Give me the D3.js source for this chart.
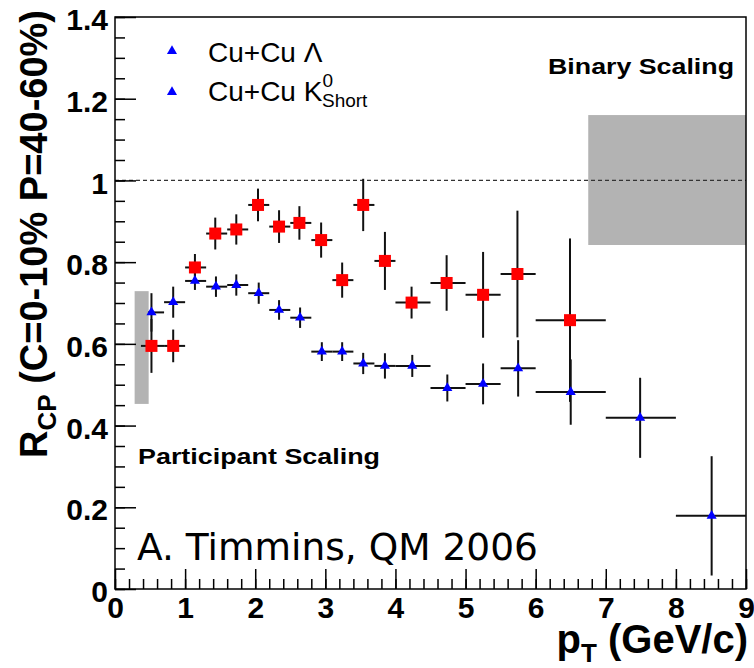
<!DOCTYPE html>
<html>
<head>
<meta charset="utf-8">
<script src="https://cdn.jsdelivr.net/npm/d3@7"></script>
<style>
  body { margin: 0; background: #fff; }
  text { font-family: "Liberation Sans", Arial, sans-serif; }
  .tick text { font-weight: bold; font-size: 30px; fill: #000; }
  .tick line { stroke: #000; stroke-width: 1.5; }
</style>
</head>
<body>
<div id="chart"></div>
<script>

// Lambda (red squares)
var lamPt  = [0.52, 0.83, 1.14, 1.43, 1.73, 2.04, 2.34, 2.63, 2.94, 3.24, 3.54, 3.85, 4.23, 4.73, 5.25, 5.74, 6.49];
var lamLo  = [0.37, 0.7, 1.0, 1.3, 1.6, 1.9, 2.2, 2.5, 2.8, 3.1, 3.4, 3.7, 4.0, 4.5, 5.0, 5.5, 6.0];
var lamHi  = [0.7, 1.0, 1.3, 1.6, 1.9, 2.2, 2.5, 2.8, 3.1, 3.4, 3.7, 4.0, 4.5, 5.0, 5.5, 6.0, 7.0];
var lamRcp = [0.595, 0.595, 0.787, 0.870, 0.880, 0.940, 0.887, 0.896, 0.854, 0.756, 0.940, 0.803, 0.701, 0.749, 0.720, 0.771, 0.658];
var lamErr = [0.066, 0.04, 0.033, 0.039, 0.037, 0.04, 0.04, 0.041, 0.043, 0.043, 0.064, 0.071, 0.039, 0.068, 0.105, 0.155, 0.2];

// K0 short (blue triangles)
var kPt  = [0.52, 0.83, 1.14, 1.44, 1.73, 2.05, 2.34, 2.64, 2.95, 3.24, 3.54, 3.85, 4.24, 4.74, 5.25, 5.75, 6.50, 7.49, 8.51];
var kLo  = [0.47, 0.7, 1.0, 1.3, 1.6, 1.9, 2.2, 2.5, 2.8, 3.1, 3.4, 3.7, 4.0, 4.5, 5.0, 5.5, 6.0, 7.0, 8.0];
var kHi  = [0.7, 1.0, 1.3, 1.6, 1.9, 2.2, 2.5, 2.8, 3.1, 3.4, 3.7, 4.0, 4.5, 5.0, 5.5, 6.0, 7.0, 8.0, 9.0];
var kRcp = [0.677, 0.702, 0.754, 0.740, 0.744, 0.724, 0.683, 0.664, 0.581, 0.581, 0.552, 0.546, 0.546, 0.492, 0.502, 0.540, 0.482, 0.419, 0.179];
var kErr = [0.047, 0.038, 0.022, 0.025, 0.026, 0.026, 0.024, 0.025, 0.023, 0.023, 0.026, 0.031, 0.027, 0.033, 0.05, 0.069, 0.08, 0.098, 0.146];

// scaling bands [x0, x1, y0, y1]
var partBand = [0.28, 0.48, 0.453, 0.729];
var binBand  = [6.75, 9.0, 0.842, 1.16];

var xTicks = d3.range(0, 10, 1);
var yTicks = [0, 0.2, 0.4, 0.6, 0.8, 1, 1.2, 1.4];

var width = 754, height = 668;
var plotL = 115, plotR = 746, plotT = 17, plotB = 589;

var svg = d3.select("#chart").append("svg")
  .attr("width", width)
  .attr("height", height);

var x = d3.scaleLinear().domain([0, 9]).range([plotL, plotR]);
var y = d3.scaleLinear().domain([0, 1.4]).range([plotB, plotT]);

function rows(pt, lo, hi, v, e) {
  return pt.map(function(d, i) {
    return {pt: d, lo: lo[i], hi: hi[i], v: v[i], e: e[i]};
  });
}
var lam = rows(lamPt, lamLo, lamHi, lamRcp, lamErr);
var k0 = rows(kPt, kLo, kHi, kRcp, kErr);

// grey bands
[partBand, binBand].forEach(function(b) {
  svg.append("rect")
    .attr("x", x(b[0]))
    .attr("y", y(b[3]))
    .attr("width", x(b[1]) - x(b[0]))
    .attr("height", y(b[2]) - y(b[3]))
    .attr("fill", "#b3b3b3");
});

// dashed line at 1
svg.append("line")
  .attr("x1", x(0)).attr("x2", x(9))
  .attr("y1", y(1)).attr("y2", y(1))
  .attr("stroke", "#333")
  .attr("stroke-width", 1.2)
  .attr("stroke-dasharray", "4,3");

// axes
var xMinor = svg.append("g")
  .attr("transform", "translate(0," + plotB + ")")
  .call(d3.axisBottom(x).tickValues(d3.range(0, 9.01, 0.2)).tickSizeInner(-10).tickSizeOuter(0).tickFormat(""));
xMinor.select(".domain").remove();

var xAxis = svg.append("g")
  .attr("transform", "translate(0," + plotB + ")")
  .call(d3.axisBottom(x).tickValues(xTicks).tickSizeInner(-20).tickSizeOuter(0).tickPadding(8).tickFormat(d3.format("d")));
xAxis.select(".domain").remove();

var yMinor = svg.append("g")
  .attr("transform", "translate(" + plotL + ",0)")
  .call(d3.axisLeft(y).tickValues(d3.range(0, 1.401, 0.05)).tickSizeInner(-10).tickSizeOuter(0).tickFormat(""));
yMinor.select(".domain").remove();

var yAxis = svg.append("g")
  .attr("transform", "translate(" + plotL + ",0)")
  .call(d3.axisLeft(y).tickValues(yTicks).tickSizeInner(-21).tickSizeOuter(0).tickPadding(7).tickFormat(d3.format("~g")));
yAxis.select(".domain").remove();
yAxis.selectAll("text").attr("dy", "0.42em");

// frame
svg.append("rect")
  .attr("x", plotL).attr("y", plotT)
  .attr("width", plotR - plotL).attr("height", plotB - plotT)
  .attr("fill", "none")
  .attr("stroke", "#000")
  .attr("stroke-width", 1.5);

// error bars
function errorBars(data) {
  var g = svg.append("g").attr("stroke", "#111").attr("stroke-width", 2);
  g.selectAll(".ex").data(data).enter().append("line")
    .attr("x1", function(d) { return x(d.lo); })
    .attr("x2", function(d) { return x(d.hi); })
    .attr("y1", function(d) { return y(d.v); })
    .attr("y2", function(d) { return y(d.v); });
  g.selectAll(".ey").data(data).enter().append("line")
    .attr("x1", function(d) { return x(d.pt); })
    .attr("x2", function(d) { return x(d.pt); })
    .attr("y1", function(d) { return y(d.v + d.e); })
    .attr("y2", function(d) { return y(d.v - d.e); });
}
errorBars(lam);
errorBars(k0);

svg.selectAll(".sq").data(lam).enter().append("rect")
  .attr("x", function(d) { return x(d.pt) - 6; })
  .attr("y", function(d) { return y(d.v) - 6; })
  .attr("width", 12).attr("height", 12)
  .attr("fill", "#ff0000");

var tri = d3.symbol().type(d3.symbolTriangle).size(44);
svg.selectAll(".tri").data(k0).enter().append("path")
  .attr("d", tri)
  .attr("transform", function(d) { return "translate(" + x(d.pt) + "," + y(d.v) + ")"; })
  .attr("fill", "#0000ff");

// legend
svg.append("path").attr("d", tri).attr("transform", "translate(172,51)").attr("fill", "#0000ff");
svg.append("path").attr("d", tri).attr("transform", "translate(172,92)").attr("fill", "#0000ff");

svg.append("text")
  .attr("x", 208).attr("y", 62)
  .style("font-size", "28px")
  .text("Cu+Cu \u039B");

var l2 = svg.append("text")
  .attr("x", 208).attr("y", 101)
  .style("font-size", "28px");
l2.append("tspan").text("Cu+Cu K");
l2.append("tspan").attr("dy", -14).style("font-size", "19px").text("0");
l2.append("tspan").attr("dx", -11).attr("dy", 20).style("font-size", "19px").text("Short");

// annotations
svg.append("text")
  .attr("x", 548).attr("y", 74)
  .style("font-size", "22px").style("font-weight", "bold")
  .attr("textLength", 186).attr("lengthAdjust", "spacingAndGlyphs")
  .text("Binary Scaling");

svg.append("text")
  .attr("x", 138).attr("y", 464)
  .style("font-size", "22px").style("font-weight", "bold")
  .attr("textLength", 242).attr("lengthAdjust", "spacingAndGlyphs")
  .text("Participant Scaling");

svg.append("text")
  .attr("x", 137).attr("y", 560)
  .style("font-family", "'DejaVu Sans', sans-serif")
  .style("font-size", "37.5px")
  .text("A. Timmins, QM 2006");

// axis titles
var yt = svg.append("text")
  .attr("transform", "translate(47,10) rotate(-90)")
  .attr("text-anchor", "end")
  .style("font-size", "38px").style("font-weight", "bold");
yt.append("tspan").text("R");
yt.append("tspan").attr("dy", 9).style("font-size", "26px").text("CP");
yt.append("tspan").attr("dy", -9).text(" (C=0-10% P=40-60%)");

var xt = svg.append("text")
  .attr("x", 748).attr("y", 653)
  .attr("text-anchor", "end")
  .style("font-size", "40px").style("font-weight", "bold");
xt.append("tspan").text("p");
xt.append("tspan").attr("dy", 9).style("font-size", "26px").text("T");
xt.append("tspan").attr("dy", -9).text(" (GeV/c)");

</script>
</body>
</html>
